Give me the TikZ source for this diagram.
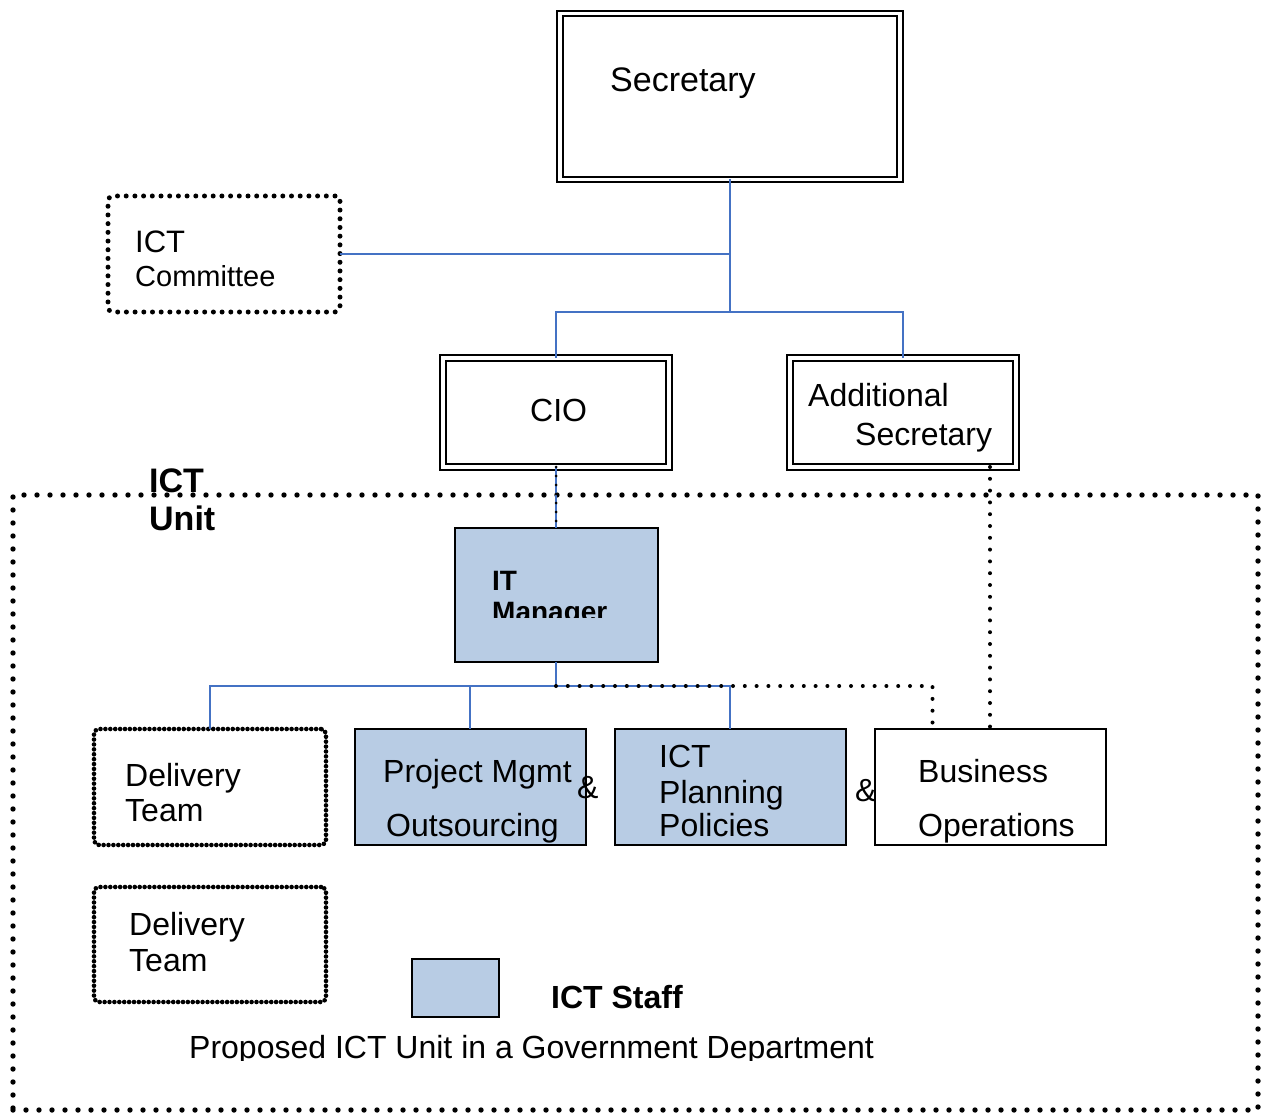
\documentclass[tikz,border=0pt]{standalone}
\usepackage{fontspec}
\setmainfont{Liberation Sans}
\definecolor{staffblue}{RGB}{184,204,228}
\definecolor{linkblue}{RGB}{68,114,196}
\begin{document}
\begin{tikzpicture}[x=1pt,y=-1pt,
  box/.style={draw=black, line width=2pt, inner sep=0pt, outer sep=0pt},
  dblbox/.style={box, line width=1.8pt, double=white, double distance=3.6pt},
  staff/.style={box, fill=staffblue},
  dots/.style={line cap=round, line width=#1},
  unitdots/.style={dots=5.4pt, dash pattern=on 0pt off 13pt},
  comdots/.style={dots=5pt, dash pattern=on 0pt off 8.7pt},
  teamdots/.style={dots=4.6pt, dash pattern=on 0pt off 4.9pt},
  linkdots/.style={dots=4pt, dash pattern=on 0pt off 11.8pt},
  finedots/.style={dots=3pt, dash pattern=on 0pt off 9pt},
  dotbox/.style={draw=black, rounded corners=5pt, inner sep=0pt, outer sep=0pt},
  conn/.style={draw=linkblue, line width=1.6pt},
  txt/.style={anchor=base west, inner sep=0pt, font=\fontsize{32}{36}\selectfont},
  btxt/.style={txt, font=\fontsize{32}{36}\selectfont\bfseries},
]
\useasboundingbox (0,0) rectangle (1270,1113);

% --- boxes ---
\node[dblbox, minimum width=340pt, minimum height=166pt] (sec) at (730,96.5) {};
\node[dotbox, comdots, minimum width=232pt, minimum height=116pt] (com) at (224,254) {};
\node[dblbox, minimum width=226pt, minimum height=109pt] (cio) at (556,412.5) {};
\node[dblbox, minimum width=226pt, minimum height=109pt] (add) at (903,412.5) {};
\node[draw=black, unitdots, inner sep=0pt, outer sep=0pt, minimum width=1245pt, minimum height=615pt] (unit) at (635.5,802.5) {};
\node[staff, minimum width=203pt, minimum height=134pt] (itm) at (556,595) {};
\node[dotbox, teamdots, minimum width=232pt, minimum height=116pt] (del1) at (210,787) {};
\node[staff, minimum width=231pt, minimum height=116pt] (pm) at (470,787) {};
\node[staff, minimum width=231pt, minimum height=116pt] (plan) at (730,787) {};
\node[box, minimum width=231pt, minimum height=116pt] (bus) at (990,787) {};
\node[dotbox, teamdots, minimum width=232pt, minimum height=115pt] (del2) at (210,944.5) {};
\node[staff, minimum width=87pt, minimum height=58pt] (key) at (455.5,988) {};

% --- reporting lines ---
\coordinate (j1) at (sec.south |- 0,312);
\draw[conn] (sec.south) -- (j1);
\draw[conn] (com.east) -- (com.east -| sec.south);
\draw[conn] (cio.north) |- (j1) -| (add.north);
\draw[conn] (cio.south) -- (itm.north);
\draw[finedots] (cio.south) -- (itm.north);
\coordinate (j2) at (itm.south |- 0,686);
\draw[conn] (itm.south) -- (j2);
\draw[conn] (del1.north) |- (plan.north |- j2) -- (plan.north);
\draw[conn] (pm.north) -- (pm.north |- j2);
\draw[linkdots] (j2) -| ([xshift=58pt]bus.north west);
\draw[linkdots] (add.south -| bus.north) -- (bus.north);

% --- labels ---
\node[txt, font=\fontsize{34}{38}\selectfont] (tsec) at (610,92) {Secretary};
\node[txt, font=\fontsize{31}{36}\selectfont] (tcom1) at (135,252) {ICT};
\node[txt, font=\fontsize{29}{34}\selectfont] (tcom2) at (135,286) {Committee};
\node[txt] (tcio) at (530,421) {CIO};
\node[txt] (tadd1) at (808,406) {Additional};
\node[txt] (tadd2) at (855,445) {Secretary};
\node[btxt, font=\fontsize{34}{38}\selectfont\bfseries] (tunit1) at (149,492) {ICT};
\node[btxt, font=\fontsize{34}{38}\selectfont\bfseries] (tunit2) at (149,530) {Unit};
\begin{scope}
  \clip (itm.north west) rectangle (658,617);
  \node[btxt, font=\fontsize{28}{32}\selectfont\bfseries] (titm1) at (492,590) {IT};
  \node[btxt, font=\fontsize{28}{32}\selectfont\bfseries] (titm2) at (492,621) {Manager};
\end{scope}
\node[txt] (tdel1a) at (125,786) {Delivery};
\node[txt] (tdel1b) at (125,821) {Team};
\node[txt] (tpm1) at (383,782) {Project Mgmt};
\node[txt] (tpm2) at (386,836) {Outsourcing};
\node[txt] (tamp1) at (577,798) {\&};
\node[txt] (tpl1) at (659,767) {ICT};
\node[txt] (tpl2) at (659,803) {Planning};
\node[txt] (tpl3) at (659,836) {Policies};
\node[txt] (tamp2) at (855,801) {\&};
\node[txt] (tbus1) at (918,782) {Business};
\node[txt] (tbus2) at (918,836) {Operations};
\node[txt] (tdel2a) at (129,935) {Delivery};
\node[txt] (tdel2b) at (129,971) {Team};
\node[btxt] (tkey) at (551,1008) {ICT Staff};
\begin{scope}
  \clip (0,1000) rectangle (1270,1060);
  \node[txt] (tcap) at (189,1058) {Proposed ICT Unit in a Government Department};
\end{scope}
\end{tikzpicture}
\end{document}
